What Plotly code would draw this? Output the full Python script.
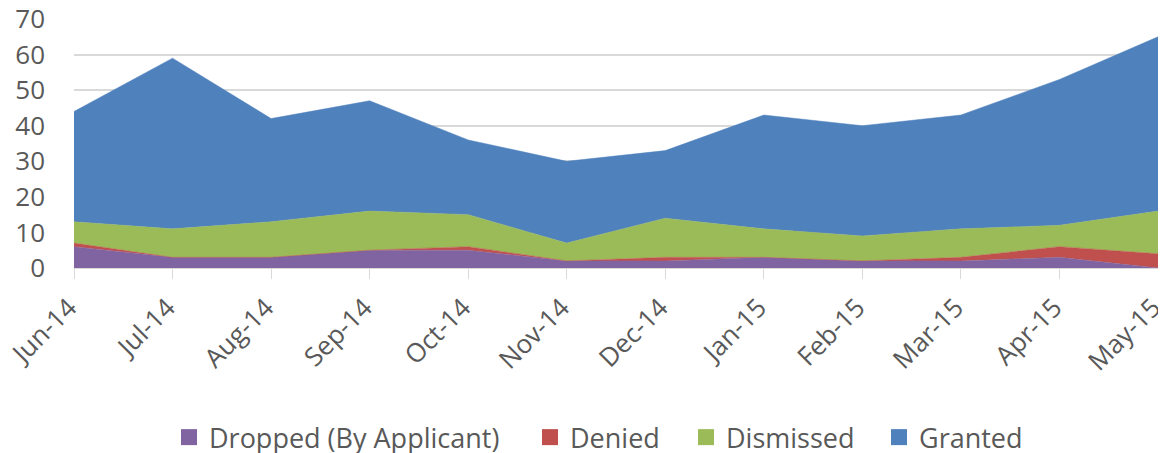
import plotly.graph_objects as go

months = ["Jun-14", "Jul-14", "Aug-14", "Sep-14", "Oct-14", "Nov-14",
          "Dec-14", "Jan-15", "Feb-15", "Mar-15", "Apr-15", "May-15"]
dropped = [6, 3, 3, 5, 5, 2, 2, 3, 2, 2, 3, 0]
denied = [1, 0, 0, 0, 1, 0, 1, 0, 0, 1, 3, 4]
dismissed = [6, 8, 10, 11, 9, 5, 11, 8, 7, 8, 6, 12]
granted = [31, 48, 29, 31, 21, 23, 19, 32, 31, 32, 41, 49]

series = [
    ("Dropped (By Applicant)", dropped, "#8064A2"),
    ("Denied", denied, "#C0504D"),
    ("Dismissed", dismissed, "#9BBB59"),
    ("Granted", granted, "#4F81BD"),
]

# page body has an 8px margin; the figure starts at (8, 8) in the window.
# Height is a bit larger than the window so the legend never pushes margins.
W, H = 1158, 470
L, R, T, B = 66, 8, 11, 210
plot_w = W - L - R
# left edges (figure px) of the legend swatches
legend_x_px = [175, 536, 692, 885]
SWATCH_OFF = 14

fig = go.Figure()
for name, vals, color in series:
    fig.add_trace(go.Scatter(
        x=months, y=vals, name=name, mode="lines",
        stackgroup="one", fillcolor=color, showlegend=False,
        line=dict(color=color, width=0.5),
    ))

legend_names = ["legend", "legend2", "legend3", "legend4"]
for (name, vals, color), lg in zip(series, legend_names):
    fig.add_trace(go.Scatter(
        x=[None], y=[None], name=name, mode="markers",
        marker=dict(symbol="square", size=17, color=color),
        showlegend=True, legend=lg,
    ))

font_family = "Open Sans, DejaVu Sans, sans-serif"
legend_common = dict(orientation="h", xanchor="left", y=-0.681,
                     yanchor="middle", bgcolor="rgba(0,0,0,0)",
                     font=dict(size=27, color="#595959", family=font_family),
                     itemwidth=30)
legends = {}
for lg, px in zip(legend_names, legend_x_px):
    legends[lg] = dict(legend_common, x=(px - SWATCH_OFF - L) / plot_w)

fig.update_layout(
    width=W, height=H,
    margin=dict(l=L, r=R, t=T, b=B),
    paper_bgcolor="white", plot_bgcolor="white",
    font=dict(family=font_family, size=26, color="#595959"),
    showlegend=True,
    xaxis=dict(
        type="category", tickangle=-45, showgrid=False, automargin=False,
        showline=True, linecolor="#d9d9d9", linewidth=1,
        ticks="outside", ticklen=10, tickcolor="#d9d9d9",
        range=[0, len(months) - 1], zeroline=False,
        ticklabelshift=-5, ticklabelstandoff=3,
        tickfont=dict(size=26, color="#595959"),
    ),
    yaxis=dict(
        range=[0, 70], dtick=10, showgrid=True, gridcolor="#d9d9d9",
        gridwidth=1.5, zeroline=False, showline=False, automargin=False,
        ticklabelstandoff=28, ticklabeloverflow="allow",
        tickfont=dict(size=26, color="#595959"),
    ),
    **legends,
)

fig.write_html("out.html")
